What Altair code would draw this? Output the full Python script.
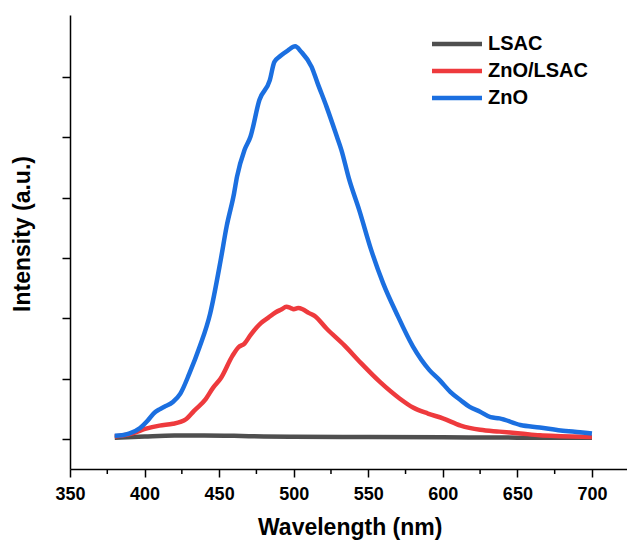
import altair as alt
import pandas as pd

# Photoluminescence spectra (arbitrary intensity units)
series_names = ["LSAC", "ZnO/LSAC", "ZnO"]
series_colors = ["#4f4f4f", "#ee3a3d", "#1b6fe0"]

lsac_wl = [380, 400, 420, 440, 460, 480, 500, 550, 600, 650, 700]
lsac_int = [0.02, 0.04, 0.055, 0.055, 0.05, 0.04, 0.035, 0.03, 0.025, 0.02, 0.02]

zno_lsac_wl = [380, 386, 392, 401, 410, 419, 424, 428, 433, 441, 446, 451, 459,
               463, 467, 471, 478, 483, 488, 492, 495, 498, 500, 503, 506, 510,
               514, 522, 534, 545, 558, 571, 580, 590, 600, 612, 625, 638, 652,
               665, 679, 700]
zno_lsac_int = [0.04, 0.06, 0.09, 0.17, 0.22, 0.25, 0.28, 0.33, 0.46, 0.66, 0.85,
                1.0, 1.38, 1.52, 1.58, 1.72, 1.92, 2.01, 2.10, 2.15, 2.19, 2.17,
                2.15, 2.17, 2.15, 2.09, 2.04, 1.83, 1.55, 1.26, 0.94, 0.67, 0.52,
                0.42, 0.34, 0.22, 0.15, 0.12, 0.09, 0.06, 0.045, 0.03]

zno_wl = [380, 385, 390, 397, 402, 406, 410, 413, 419, 424, 430, 437, 444, 451,
          455, 460, 462, 467, 471, 477, 484, 487, 491, 496, 501, 505, 512, 516,
          522, 529, 532, 537, 544, 552, 560, 569, 580, 591, 598, 605, 612, 618,
          625, 632, 638, 652, 665, 679, 692, 700]
zno_int = [0.05, 0.06, 0.09, 0.18, 0.30, 0.42, 0.49, 0.53, 0.61, 0.75, 1.08, 1.53,
           2.08, 2.96, 3.52, 4.07, 4.35, 4.79, 5.01, 5.62, 5.95, 6.25, 6.35, 6.44,
           6.51, 6.42, 6.17, 5.90, 5.51, 5.01, 4.79, 4.32, 3.79, 3.13, 2.58, 2.08,
           1.53, 1.14, 0.97, 0.78, 0.64, 0.53, 0.45, 0.36, 0.34, 0.23, 0.19, 0.14,
           0.11, 0.09]

major_ticks = [350, 400, 450, 500, 550, 600, 650, 700]
minor_ticks = [375, 425, 475, 525, 575, 625, 675]
y_ticks = [0, 1, 2, 3, 4, 5, 6]

frames = []
for name, wl, inten in [("LSAC", lsac_wl, lsac_int),
                        ("ZnO/LSAC", zno_lsac_wl, zno_lsac_int),
                        ("ZnO", zno_wl, zno_int)]:
    frames.append(pd.DataFrame({"wavelength": wl, "intensity": inten, "series": name}))
spectra = pd.concat(frames, ignore_index=True)

FONT = "Liberation Sans"
W, H = 557, 454

x_scale = alt.Scale(domain=[350, 723.5], nice=False, zero=False)
y_scale = alt.Scale(domain=[-0.5, 7.03], nice=False, zero=False)

lines = alt.Chart(spectra).mark_line(strokeWidth=4.5, interpolate="monotone").encode(
    x=alt.X(
        "wavelength:Q", scale=x_scale,
        axis=alt.Axis(
            values=major_ticks, title="Wavelength (nm)", format="d",
            tickSize=8, labelPadding=22, labelBaseline="alphabetic",
            labelFontSize=18, labelFont=FONT, labelFontWeight="bold",
            labelFlush=False, labelOverlap=False, labelColor="black",
            titleFontSize=23, titleFont=FONT, titleFontWeight="bold",
            titleX=279.7, titleY=65.6, titleAlign="center",
            titleBaseline="alphabetic", titleColor="black",
        ),
    ),
    y=alt.Y(
        "intensity:Q", scale=y_scale,
        axis=alt.Axis(
            values=y_ticks, labels=False, title="Intensity (a.u.)",
            tickSize=8, titleFontSize=23, titleFont=FONT,
            titleFontWeight="bold", titleAngle=270, titleX=-40.5, titleY=218.5,
            titleAlign="center", titleBaseline="alphabetic", titleColor="black",
        ),
    ),
    color=alt.Color(
        "series:N",
        scale=alt.Scale(domain=series_names, range=series_colors),
        legend=alt.Legend(
            title=None, orient="none", legendX=377, legendY=19, padding=0,
            symbolType="M-5,0H5", symbolSize=100, symbolStrokeWidth=4.5,
            labelFont=FONT, labelFontSize=20, labelFontWeight="bold",
            labelColor="black", labelOffset=21, rowPadding=7,
        ),
    ),
)

minor = alt.Chart(pd.DataFrame({"wavelength": minor_ticks})).mark_rule(
    color="black", strokeWidth=1.5
).encode(
    x=alt.X("wavelength:Q", scale=x_scale),
    y=alt.value(H),
    y2=alt.value(H + 5),
)

chart = alt.layer(lines, minor).properties(
    width=W, height=H,
    padding={"left": 70, "top": 15, "right": 0, "bottom": 72},
    autosize=alt.AutoSizeParams(type="none"),
).configure_view(stroke=None).configure_axis(
    grid=False, domainColor="black", domainWidth=1.5,
    tickColor="black", tickWidth=1.5,
)

chart.save("out.html", embed_options={"renderer": "svg", "actions": False})
